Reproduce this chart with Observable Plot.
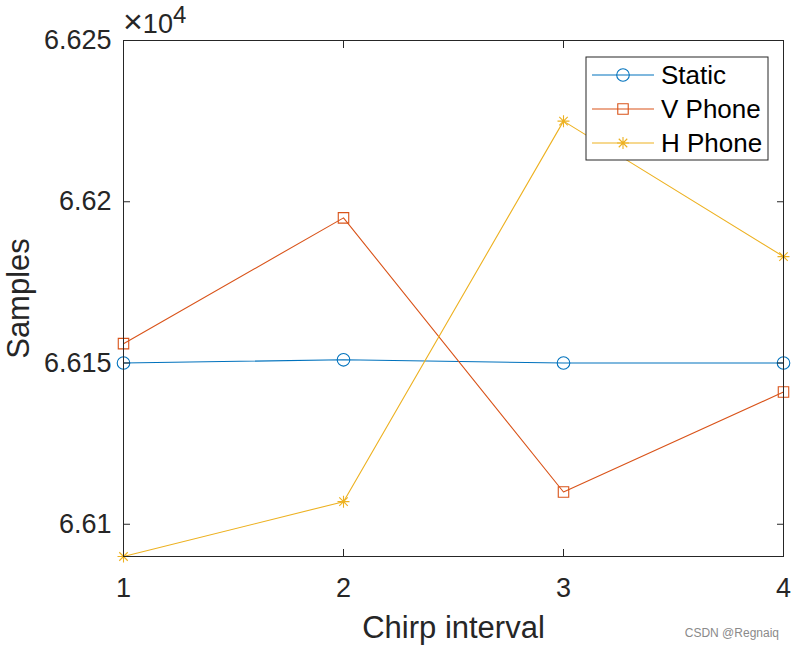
<!DOCTYPE html>
<html>
<head>
<meta charset="utf-8">
<script src="https://cdn.jsdelivr.net/npm/d3@7"></script>
<script src="https://cdn.jsdelivr.net/npm/@observablehq/plot@0.6"></script>
<style>
  html, body { margin: 0; padding: 0; background: #fff; }
  #chart svg { display: block; }
</style>
</head>
<body>
<div id="chart"></div>
<script>
// ---- data ----
const intervals = [1, 2, 3, 4];
const staticSamples = [66150, 66151, 66150, 66150];
const vPhoneSamples = [66156, 66195, 66110, 66141];
const hPhoneSamples = [66090, 66107, 66225, 66183];
const seriesNames = ["Static", "V Phone", "H Phone"];
const seriesColors = ["#0072BD", "#D95319", "#EDB120"];
const xTicks = [1, 2, 3, 4];
const yTicks = [66100, 66150, 66200, 66250];
const xLabel = "Chirp interval";
const yLabel = "Samples";
const watermark = "CSDN @Regnaiq";

// MATLAB-like '*' marker: 4 strokes (8 spokes)
const asterisk8 = {
  draw(context, size) {
    const r = Math.sqrt(size / Math.PI);
    const d = r * Math.SQRT1_2;
    context.moveTo(-r, 0); context.lineTo(r, 0);
    context.moveTo(0, -r); context.lineTo(0, r);
    context.moveTo(-d, -d); context.lineTo(d, d);
    context.moveTo(-d, d); context.lineTo(d, -d);
  }
};
const seriesSymbols = ["circle", "square", asterisk8];
const seriesR = [6.3, 5.9, 6];
const seriesValues = [staticSamples, vPhoneSamples, hPhoneSamples];

const rows = [];
seriesNames.forEach((name, si) => {
  intervals.forEach((x, i) => rows.push({series: name, si, x, y: seriesValues[si][i]}));
});

const font = '"Liberation Sans", Arial, Helvetica, sans-serif';
const axisColor = "#262626";

const marks = [];
seriesNames.forEach((name, si) => {
  const d = rows.filter(r => r.si === si);
  marks.push(Plot.line(d, {x: "x", y: "y", stroke: seriesColors[si], strokeWidth: 1.1}));
  marks.push(Plot.dot(d, {x: "x", y: "y", stroke: seriesColors[si], fill: "none",
    symbol: seriesSymbols[si], r: seriesR[si], strokeWidth: 1.1}));
});

const plot = Plot.plot({
  width: 794,
  height: 648,
  marginLeft: 123,
  marginRight: 11,
  marginTop: 40,
  marginBottom: 92,
  style: {fontFamily: font, background: "#fff", color: axisColor},
  x: {domain: [1, 4], type: "linear"},
  y: {domain: [66090, 66250], type: "linear"},
  marks: [
    ...marks,
    Plot.frame({stroke: axisColor, strokeWidth: 1}),
    Plot.axisX({anchor: "bottom", ticks: xTicks, tickSize: -7, tickPadding: 28, fontSize: 27,
      tickFormat: d => String(d), label: null, stroke: axisColor, fill: axisColor}),
    Plot.axisX({anchor: "top", ticks: xTicks, tickSize: -7, tickFormat: () => "", label: null, stroke: axisColor}),
    Plot.axisY({anchor: "left", ticks: yTicks, tickSize: -7, tickPadding: 19, fontSize: 27,
      tickFormat: d => String(+(d / 1e4).toFixed(4)), label: null, stroke: axisColor, fill: axisColor}),
    Plot.axisY({anchor: "right", ticks: yTicks, tickSize: -7, tickFormat: () => "", label: null, stroke: axisColor}),
    Plot.text([xLabel], {frameAnchor: "bottom", dy: 81, lineAnchor: "bottom", fontSize: 31,
      fill: axisColor, text: d => d}),
    Plot.text([yLabel], {frameAnchor: "left", dx: -95, rotate: -90, lineAnchor: "bottom",
      textAnchor: "middle", fontSize: 31, fill: axisColor, text: d => d})
  ]
});

document.getElementById("chart").appendChild(plot);

// ---- exponent label and legend, drawn into the same svg ----
const svg = d3.select(plot);
const expo = svg.append("text")
  .attr("x", 123).attr("y", 33).attr("text-anchor", "start")
  .style("font-family", font).style("fill", axisColor).style("font-size", "27px");
expo.append("tspan").style("font-size", "34px").text("×");
expo.append("tspan").text("10");
expo.append("tspan").style("font-size", "24px").attr("dy", -10).text("4");

const lg = svg.append("g").attr("transform", "translate(586,57)");
lg.append("rect").attr("width", 182).attr("height", 103)
  .attr("fill", "#fff").attr("stroke", axisColor).attr("stroke-width", 1);
seriesNames.forEach((name, si) => {
  const cy = 18 + si * 34;
  const row = lg.append("g").attr("transform", `translate(0,${cy})`);
  row.append("line").attr("x1", 6).attr("x2", 68).attr("y1", 0).attr("y2", 0)
    .attr("stroke", seriesColors[si]).attr("stroke-width", 1.1);
  const sym = seriesSymbols[si];
  const type = sym === "circle" ? d3.symbolCircle : sym === "square" ? d3.symbolSquare : sym;
  const r = seriesR[si];
  row.append("path").attr("transform", "translate(37,0)")
    .attr("d", d3.symbol(type, r * r * Math.PI)())
    .attr("fill", "none").attr("stroke", seriesColors[si]).attr("stroke-width", 1.1);
  row.append("text").attr("x", 75).attr("y", 0).attr("dy", "0.36em").attr("text-anchor", "start")
    .style("font-family", font).style("font-size", "26px").style("fill", "#000").text(name);
});

svg.append("text").attr("x", 779).attr("y", 637).attr("text-anchor", "end")
  .style("font-family", font).style("font-size", "12px").style("fill", "#8a8a8a").text(watermark);
</script>
</body>
</html>
